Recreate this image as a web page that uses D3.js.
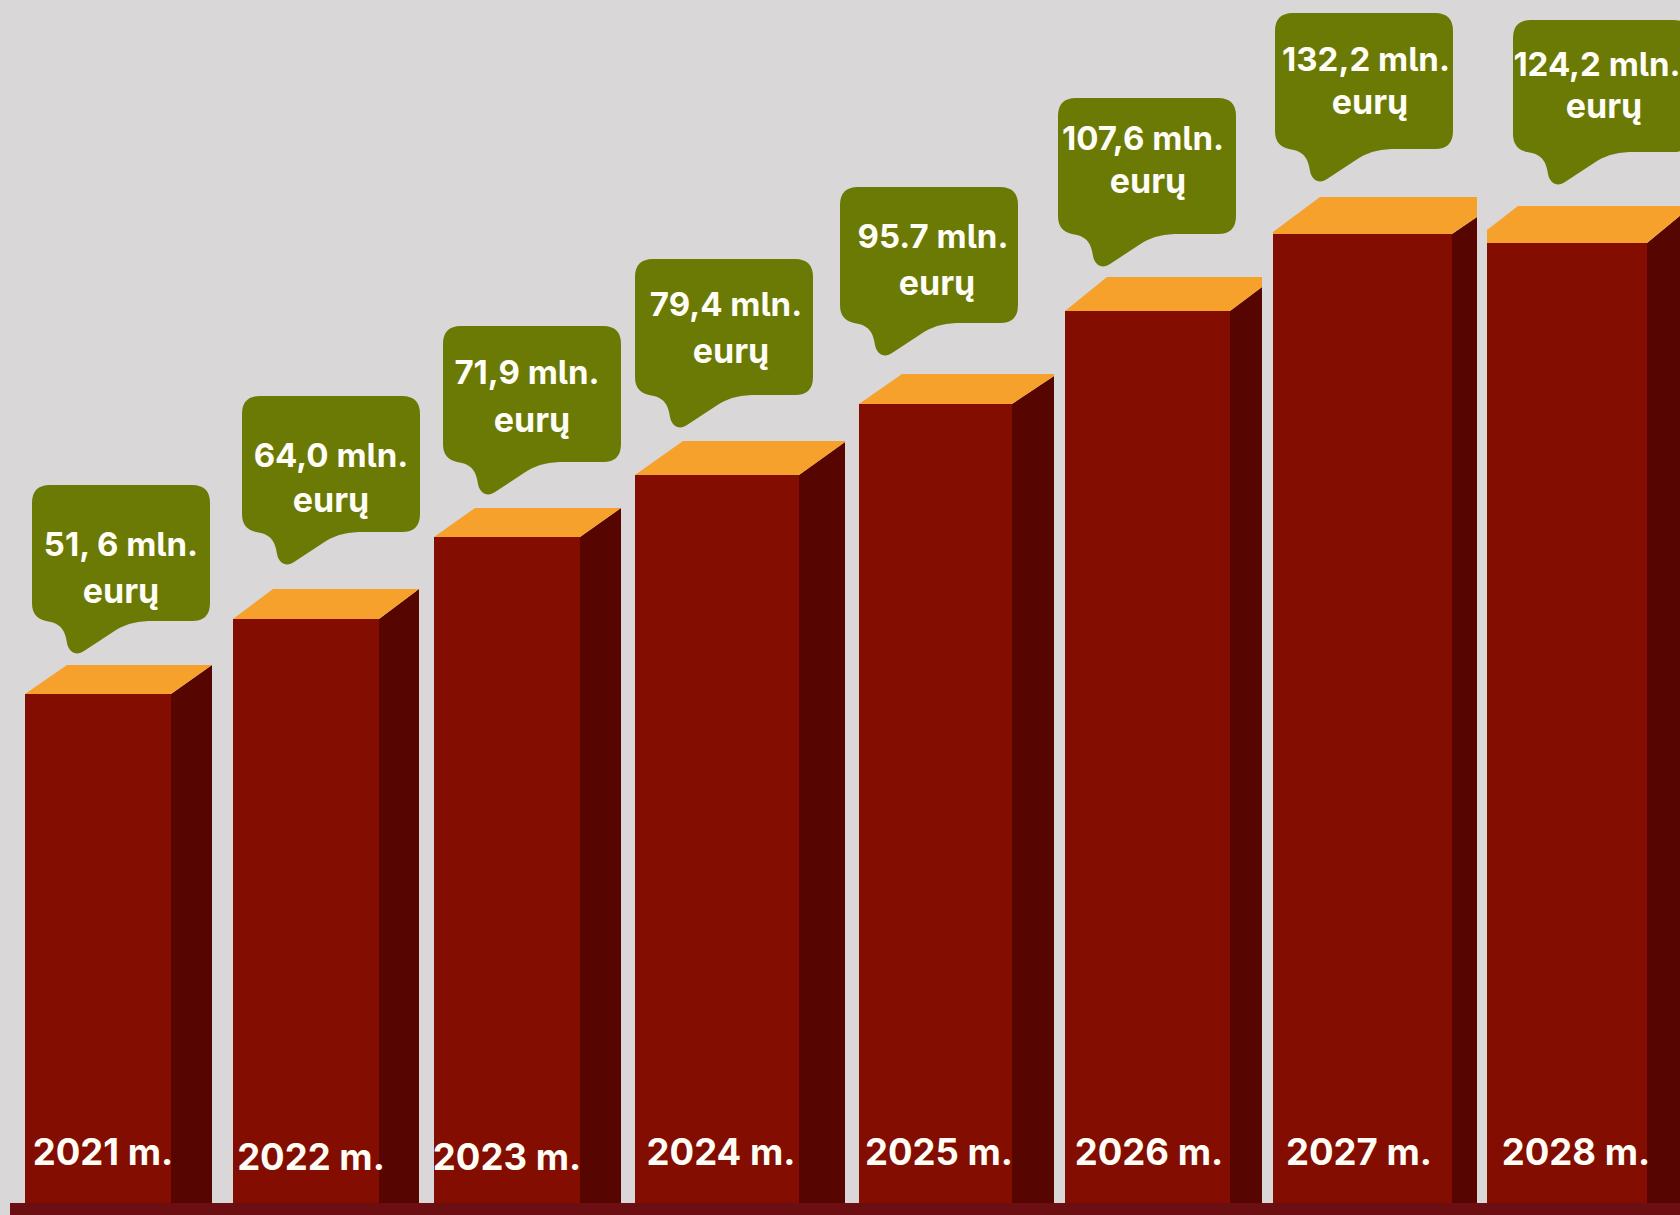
<!DOCTYPE html>
<html>
<head>
<meta charset="utf-8">
<script src="https://cdn.jsdelivr.net/npm/d3@7"></script>
<style>
  html, body { margin: 0; padding: 0; background: #d9d7d8; overflow: hidden; }
  svg { display: block; }
  text { font-family: "Inter", sans-serif; font-weight: 700; fill: #fffdf5; font-feature-settings: "cv05"; }
</style>
</head>
<body>
<script>
// data
var years = ["2021", "2022", "2023", "2024", "2025", "2026", "2027", "2028"];
var values = [51.6, 64.0, 71.9, 79.4, 95.7, 107.6, 132.2, 124.2];
var valueLabels = ["51, 6 mln.", "64,0 mln.", "71,9 mln.", "79,4 mln.", "95.7 mln.", "107,6 mln.", "132,2 mln.", "124,2 mln."];
var unitLabel = "eurų";

var width = 1680;
var height = 1215;

// the bars in the picture are not proportional to their labels, so y runs through one stop per value
var yScale = d3.scaleLinear()
               .domain([0, 51.6, 64.0, 71.9, 79.4, 95.7, 107.6, 124.2, 132.2])
               .range([1203, 694, 619, 537, 475, 404, 311, 243, 234]);

// the bars are unevenly placed and sized too
var xLeft = d3.scaleOrdinal(years, [25, 233, 434, 635, 859, 1065, 1273, 1487]);
var xRight = d3.scaleOrdinal(years, [171, 379, 580, 799, 1012, 1230, 1452, 1647]);
var xBackLeft = d3.scaleOrdinal(years, [67, 273, 475, 683, 902, 1107, 1320, 1518]);
var xBackRight = d3.scaleOrdinal(years, [212, 419, 621, 845, 1054, 1262, 1477, 1692]);
var rise = d3.scaleOrdinal(years, [29, 30, 29, 34, 30, 34, 37, 37]);
var sideDrop = d3.scaleOrdinal(years, [0, 0, 0, 1, 2, 10, 20, 0]);
var leftLift = d3.scaleOrdinal(years, [0, 0, 0, 0, 0, 0, 2, 13]);

// callouts
var bubbleWidth = 178;
var bubbleX = d3.scaleOrdinal(years, [32, 242, 443, 635, 840, 1058, 1275, 1513]);
var bubbleY = d3.scaleOrdinal(years, [485, 396, 326, 259, 187, 98, 13, 20]);
var bubbleHeight = d3.scaleOrdinal(years, [136, 136, 136, 136, 136, 136, 136, 132]);
var line1Dx = d3.scaleOrdinal(years, [89, 89, 84, 91, 93, 85, 91, 84]);
var line2Dx = d3.scaleOrdinal(years, [89, 89, 89, 96, 97, 90, 95, 91]);
var line1Dy = d3.scaleOrdinal(years, [71, 71, 58, 57, 61, 52, 58, 56]);
var line2Dy = d3.scaleOrdinal(years, [118, 116, 106, 104, 108, 95, 101, 98]);

// year labels
var yearX = d3.scaleOrdinal(years, [103, 311, 507, 721, 939, 1149, 1359, 1576]);
var yearY = d3.scaleOrdinal(years, [1165, 1170, 1170, 1165, 1165, 1165, 1165, 1165]);

var svg = d3.select("body")
            .append("svg")
            .attr("width", width)
            .attr("height", height);

svg.append("rect")
   .attr("width", width)
   .attr("height", height)
   .attr("fill", "#d9d7d8");

function polygon(points) {
	return d3.line()(points) + "Z";
}

var bars = svg.selectAll(".bar")
              .data(years)
              .enter()
              .append("g")
              .attr("class", "bar");

function barTop(d, i) { return yScale(values[i]); }

// front
bars.append("rect")
    .attr("x", d => xLeft(d))
    .attr("y", barTop)
    .attr("width", d => xRight(d) - xLeft(d))
    .attr("height", (d, i) => yScale(0) - barTop(d, i))
    .attr("fill", "#820d00");

// side
bars.append("path")
    .attr("fill", "#560500")
    .attr("d", (d, i) => polygon([
    	[xRight(d), barTop(d, i)],
    	[xBackRight(d), barTop(d, i) - rise(d) + sideDrop(d)],
    	[xBackRight(d), yScale(0)],
    	[xRight(d), yScale(0)]
    ]));

// lid
bars.append("path")
    .attr("fill", "#f6a12b")
    .attr("d", (d, i) => polygon([
    	[xLeft(d), barTop(d, i)],
    	[xLeft(d), barTop(d, i) - leftLift(d)],
    	[xBackLeft(d), barTop(d, i) - rise(d)],
    	[xBackRight(d), barTop(d, i) - rise(d)],
    	[xBackRight(d), barTop(d, i) - rise(d) + sideDrop(d)],
    	[xRight(d), barTop(d, i)]
    ]));

// base line
svg.append("rect")
   .attr("x", 10)
   .attr("y", yScale(0))
   .attr("width", width - 10)
   .attr("height", height - yScale(0))
   .attr("fill", "#6c0f13");

// speech bubble, tail hangs from the bottom edge
function bubblePath(x, y, h) {
	var w = bubbleWidth, r = 18, b = y + h;
	var p = d3.path();
	p.moveTo(x + r, y);
	p.lineTo(x + w - r, y);
	p.quadraticCurveTo(x + w, y, x + w, y + r);
	p.lineTo(x + w, b - r);
	p.quadraticCurveTo(x + w, b, x + w - r, b);
	p.lineTo(x + 122, b);
	p.bezierCurveTo(x + 106, b, x + 96, b + 2, x + 84, b + 9);
	p.lineTo(x + 52, b + 30);
	p.bezierCurveTo(x + 45, b + 35, x + 37, b + 32, x + 35, b + 22);
	p.bezierCurveTo(x + 33, b + 8, x + 28, b + 2, x + 14, b);
	p.quadraticCurveTo(x, b - 3, x, b - r);
	p.lineTo(x, y + r);
	p.quadraticCurveTo(x, y, x + r, y);
	p.closePath();
	return p.toString();
}

var bubbles = svg.selectAll(".bubble")
                 .data(years)
                 .enter()
                 .append("g")
                 .attr("class", "bubble");

bubbles.append("path")
       .attr("fill", "#6b7a05")
       .attr("d", d => bubblePath(bubbleX(d), bubbleY(d), bubbleHeight(d)));

bubbles.append("text")
       .attr("x", d => bubbleX(d) + line1Dx(d))
       .attr("y", d => bubbleY(d) + line1Dy(d))
       .style("text-anchor", "middle")
       .style("font-size", "33px")
       .text((d, i) => valueLabels[i]);

bubbles.append("text")
       .attr("x", d => bubbleX(d) + line2Dx(d))
       .attr("y", d => bubbleY(d) + line2Dy(d))
       .style("text-anchor", "middle")
       .style("font-size", "34px")
       .text(unitLabel);

// year labels
svg.selectAll(".year")
   .data(years)
   .enter()
   .append("text")
   .attr("class", "year")
   .attr("x", d => yearX(d))
   .attr("y", d => yearY(d))
   .style("text-anchor", "middle")
   .style("font-size", "36.5px")
   .text(d => d + " m.");
</script>
</body>
</html>
